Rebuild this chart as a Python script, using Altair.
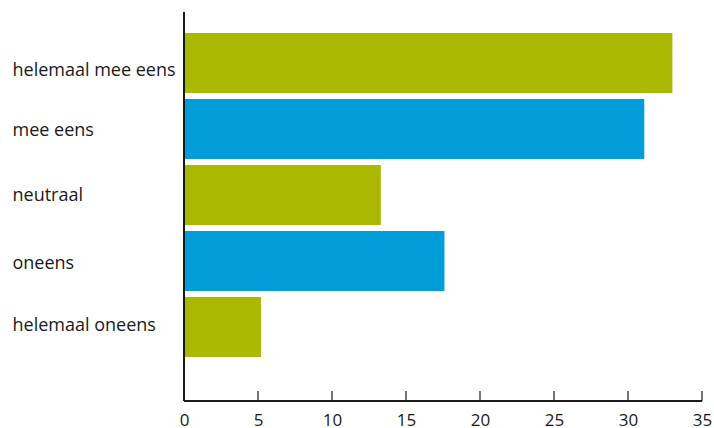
import altair as alt
import pandas as pd

categories = ["helemaal mee eens", "mee eens", "neutraal", "oneens", "helemaal oneens"]
values = [33.0, 31.1, 13.3, 17.6, 5.2]
groups = ["g", "b", "g", "b", "g"]
ticks = [0, 5, 10, 15, 20, 25, 30, 35]

df = pd.DataFrame({"cat": categories, "val": values, "grp": groups})
tdf = pd.DataFrame({"t": ticks})

W, H = 518, 389
FONT = "Open Sans"
INK = "#1a1a1a"

xscale = alt.Scale(domain=[0, 35], nice=False, zero=True)

label_offset = alt.ExprRef(
    "datum.value === 'helemaal mee eens' ? 8 : "
    "datum.value === 'mee eens' ? 2 : "
    "datum.value === 'oneens' ? 2.5 : "
    "datum.value === 'helemaal oneens' ? -1 : 1"
)

bars = alt.Chart(df).mark_bar().encode(
    y=alt.Y("cat:N", sort=categories,
            scale=alt.Scale(range=[21, 345], paddingInner=6 / 66, paddingOuter=0),
            axis=alt.Axis(title=None, ticks=False, domain=False, labelAlign="left",
                          labelPadding=172, labelFont=FONT, labelFontSize=18,
                          labelColor=INK, labelLimit=200, labelOffset=label_offset)),
    x=alt.X("val:Q", scale=xscale,
            axis=alt.Axis(title=None, values=ticks, ticks=False, grid=False, domain=False,
                          labelPadding=11, labelFont=FONT, labelFontSize=17,
                          labelColor=INK, labelFlush=False)),
    color=alt.Color("grp:N", scale=alt.Scale(domain=["g", "b"], range=["#AAB800", "#009DD8"]),
                    legend=None),
)

tickmarks = alt.Chart(tdf).mark_rule(color=INK, strokeWidth=1.2).encode(
    x=alt.X("t:Q", scale=xscale),
    y=alt.value(H),
    y2=alt.value(H - 10),
)

yline = alt.Chart(tdf).mark_rule(color=INK, strokeWidth=1.2).encode(
    x=alt.value(0), y=alt.value(0), y2=alt.value(H),
)
xline = alt.Chart(tdf).mark_rule(color=INK, strokeWidth=1.2).encode(
    x=alt.value(0), x2=alt.value(W), y=alt.value(H),
)

chart = alt.layer(bars, tickmarks, yline, xline).properties(
    width=W, height=H,
    autosize=alt.AutoSizeParams(type="none"),
    padding={"left": 184, "top": 12, "right": 12, "bottom": 27},
).configure_view(stroke=None)

chart.save("out.html", embed_options={"renderer": "svg", "actions": False})
